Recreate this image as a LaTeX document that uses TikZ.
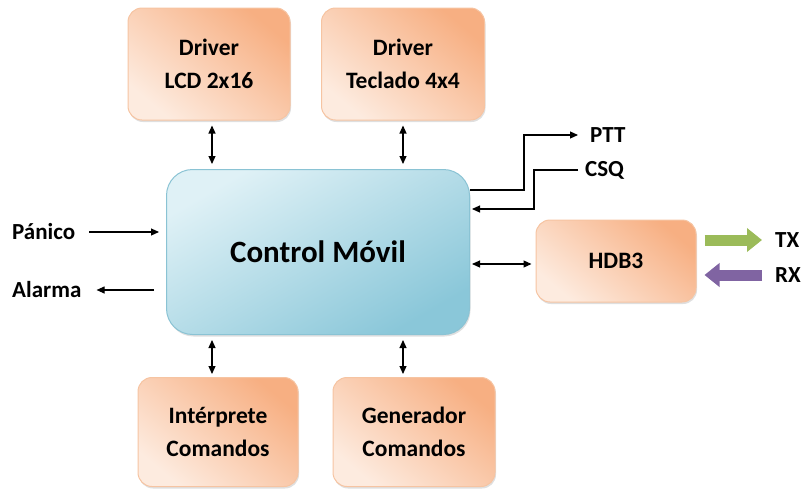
\documentclass[tikz,border=0pt]{standalone}
\usepackage{fontspec}
\setmainfont{Carlito}
\usetikzlibrary{arrows.meta,shadows,calc}

\definecolor{naranja}{HTML}{F7AF82}
\definecolor{durazno}{HTML}{FDEBDF}
\definecolor{bordenar}{HTML}{F6C4A2}
\definecolor{celeste}{HTML}{DFF1F6}
\definecolor{azulcl}{HTML}{8AC7D9}
\definecolor{bordeaz}{HTML}{8AC3D4}
\definecolor{verde}{HTML}{9BBB59}
\definecolor{morado}{HTML}{8064A2}

\tikzset{
  texto/.style={font=\bfseries\fontsize{23.5}{33}\selectfont, align=center},
  caja/.style={texto, rounded corners=14pt, draw=bordenar, line width=1pt,
    shading=axis, top color=naranja, bottom color=durazno, shading angle=-40,
    drop shadow={shadow xshift=1pt, shadow yshift=-2pt, opacity=0.25}},
  control/.style={rounded corners=26pt, draw=bordeaz, line width=1pt,
    shading=axis, top color=celeste, bottom color=azulcl, shading angle=30,
    font=\bfseries\fontsize{31}{36}\selectfont,
    drop shadow={shadow xshift=1pt, shadow yshift=-2pt, opacity=0.25}},
  etiqueta/.style={texto, font=\bfseries\fontsize{23}{28}\selectfont, inner sep=2pt},
  flecha/.style={line width=1.1pt, -{Triangle[length=8pt,width=7pt]}},
  flecha2/.style={line width=1.1pt, {Triangle[length=8pt,width=7pt]}-{Triangle[length=8pt,width=7pt]}},
  gruesa/.style={line width=11pt, -{Triangle[length=15pt,width=23pt]}}
}

\begin{document}
\begin{tikzpicture}[x=1pt,y=-1pt]
  \useasboundingbox (0,0) rectangle (807,491);

  % bloques
  \node[caja, minimum width=162pt, minimum height=112pt] (lcd) at (209,64) {Driver\\LCD 2x16};
  \node[caja, minimum width=163pt, minimum height=112pt] (tec) at (403,64) {Driver\\Teclado 4x4};
  \node[control, minimum width=303pt, minimum height=165pt] (ctrl) at (318,252) {Control Móvil};
  \node[caja, minimum width=160pt, minimum height=109pt] (int) at (218,432) {Intérprete\\Comandos};
  \node[caja, minimum width=162pt, minimum height=109pt] (gen) at (414,432) {Generador\\Comandos};
  \node[caja, minimum width=160pt, minimum height=82pt] (hdb) at (616,261) {HDB3};

  % etiquetas
  \node[etiqueta, anchor=west] (pan) at (10,232) {Pánico};
  \node[etiqueta, anchor=west] (ala) at (10,290) {Alarma};
  \node[etiqueta, anchor=west] (ptt) at (588,135) {PTT};
  \node[etiqueta, anchor=west] (csq) at (583,170) {CSQ};
  \node[etiqueta, anchor=west] (tx) at (773,240) {TX};
  \node[etiqueta, anchor=west] (rx) at (773,275) {RX};

  % conexiones
  \draw[flecha2] ($(lcd.south)+(3,5)$) -- ($(lcd.south |- ctrl.north)+(3,-5)$);
  \draw[flecha2] ($(tec.south)+(0,5)$) -- ($(tec.south |- ctrl.north)+(0,-5)$);
  \draw[flecha2] ($(lcd.south |- ctrl.south)+(3,5)$) -- ($(lcd.south |- int.north)+(3,-3)$);
  \draw[flecha2] ($(tec.south |- ctrl.south)+(0,5)$) -- ($(tec.south |- gen.north)+(0,-3)$);
  \draw[flecha2] ($(hdb.west -| ctrl.east)+(2,3)$) -- ($(hdb.west)+(-4,3)$);

  \draw[flecha] ($(pan.east)+(12,0)$) -- ($(pan.east -| ctrl.west)+(-7,0)$);
  \draw[flecha] ($(ala.east -| ctrl.west)+(-12,0)$) -- ($(ala.east)+(13,0)$);

  \draw[flecha] ($(ctrl.east)+(0,-62)$) -- ++(54,0) |- ($(ptt.west)+(-10,0)$);
  \draw[flecha] ($(csq.west)+(-5,0)$) -- ++(-44,0) |- ($(ctrl.east)+(2,-43)$);

  \draw[gruesa, verde] ($(hdb.east |- tx.west)+(8,0)$) -- ($(tx.west)+(-11,0)$);
  \draw[gruesa, morado] ($(rx.west)+(-11,0)$) -- ($(hdb.east |- rx.west)+(8,0)$);
\end{tikzpicture}
\end{document}
